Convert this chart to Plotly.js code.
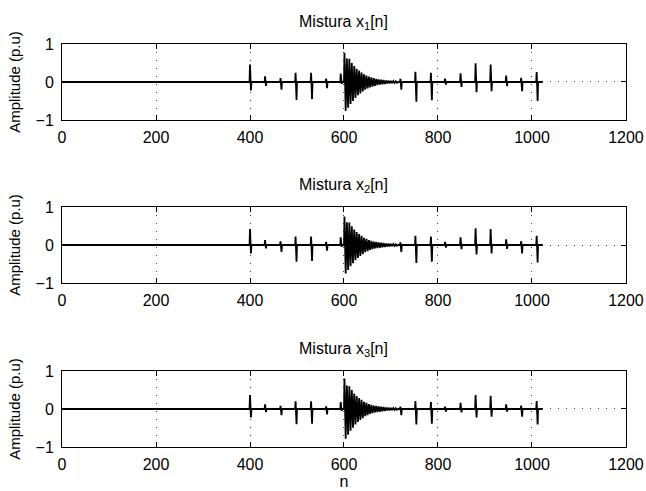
<!DOCTYPE html>
<html>
<head>
<meta charset="utf-8">
<script src="https://cdn.plot.ly/plotly-3.0.1.min.js"></script>
<style>html,body{margin:0;padding:0;background:#fff;}#chart{width:646px;height:491px;}</style>
</head>
<body>
<div id="chart"></div>
<script>
// ---- data ----
const nStart = 0, nEnd = 1023;
const spikeN = [400, 432, 465, 497, 530, 562, 593, 720, 752, 785, 815, 848, 880, 912, 945, 977, 1010];
const x1Up   = [0.46, 0.15, 0.10, 0.24, 0.24, 0.09, 0.22, 0.08, 0.27, 0.24, 0.09, 0.23, 0.49, 0.46, 0.17, 0.11, 0.26];
const x1Down = [-0.22, -0.10, -0.20, -0.47, -0.45, -0.16, -0.05, -0.20, -0.52, -0.48, -0.07, -0.13, -0.27, -0.24, -0.11, -0.24, -0.50];
const x2Up   = [0.42, 0.13, 0.10, 0.22, 0.22, 0.08, 0.20, 0.07, 0.24, 0.22, 0.08, 0.20, 0.44, 0.42, 0.15, 0.10, 0.24];
const x2Down = [-0.22, -0.09, -0.18, -0.44, -0.42, -0.15, -0.05, -0.18, -0.47, -0.44, -0.07, -0.11, -0.25, -0.22, -0.10, -0.22, -0.46];
const x3Up   = [0.37, 0.12, 0.08, 0.20, 0.20, 0.07, 0.18, 0.06, 0.21, 0.18, 0.06, 0.16, 0.37, 0.35, 0.12, 0.09, 0.21];
const x3Down = [-0.22, -0.08, -0.16, -0.40, -0.39, -0.14, -0.05, -0.16, -0.41, -0.39, -0.07, -0.09, -0.22, -0.20, -0.07, -0.20, -0.41];

// decaying oscillation starting near n = 600 (alternating peaks)
const oscStart = 601, oscHalfPeriod = 2.6;
const x1Osc = [0.77, -0.76, 0.62, -0.68, 0.61, -0.58, 0.50, -0.50, 0.42, -0.42, 0.35, -0.35, 0.30, -0.30, 0.25, -0.25,
  0.20, -0.20, 0.17, -0.17, 0.14, -0.14, 0.12, -0.12, 0.10, -0.10, 0.08, -0.08, 0.07, -0.07, 0.06, -0.06,
  0.05, -0.05, 0.04, -0.04, 0.035, -0.035, 0.03, -0.03, 0.025, -0.025, 0.02, -0.02];
const x2Osc = [0.75, -0.75, 0.60, -0.66, 0.59, -0.56, 0.49, -0.48, 0.41, -0.40, 0.34, -0.34, 0.29, -0.29, 0.24, -0.24,
  0.19, -0.19, 0.16, -0.16, 0.13, -0.13, 0.11, -0.11, 0.09, -0.09, 0.08, -0.08, 0.07, -0.07, 0.06, -0.06,
  0.05, -0.05, 0.04, -0.04, 0.035, -0.035, 0.03, -0.03, 0.025, -0.025, 0.02, -0.02];
const x3Osc = [0.80, -0.78, 0.62, -0.68, 0.60, -0.57, 0.50, -0.49, 0.41, -0.41, 0.34, -0.34, 0.29, -0.29, 0.24, -0.24,
  0.19, -0.19, 0.16, -0.16, 0.13, -0.13, 0.11, -0.11, 0.09, -0.09, 0.08, -0.08, 0.07, -0.07, 0.06, -0.06,
  0.05, -0.05, 0.04, -0.04, 0.035, -0.035, 0.03, -0.03, 0.025, -0.025, 0.02, -0.02];

const titles = ['Mistura x<sub>1</sub>[n]', 'Mistura x<sub>2</sub>[n]', 'Mistura x<sub>3</sub>[n]'];
const xTicks = [0, 200, 400, 600, 800, 1000, 1200];
const yTicks = [-1, 0, 1];
const yTitle = 'Amplitude (p.u)';
const xTitle = 'n';

// ---- build the signal vertices from the read values ----
function buildSignal(up, down, osc) {
  const pts = [[nStart, 0]];
  let oscDone = false;
  spikeN.forEach((n, i) => {
    if (n > oscStart && !oscDone) {
      pts.push([oscStart - 1, 0]);
      osc.forEach((v, k) => pts.push([oscStart + k * oscHalfPeriod, v]));
      pts.push([oscStart + osc.length * oscHalfPeriod, 0]);
      oscDone = true;
    }
    pts.push([n - 1, 0], [n, up[i]], [n + 2, down[i]], [n + 3, 0]);
  });
  pts.push([nEnd, 0]);
  return {x: pts.map(p => p[0]), y: pts.map(p => p[1])};
}

const sigs = [buildSignal(x1Up, x1Down, x1Osc), buildSignal(x2Up, x2Down, x2Osc), buildSignal(x3Up, x3Down, x3Osc)];

const font = {family: 'Liberation Sans, Arial, sans-serif', size: 16, color: '#000'};
const yTitleFont = {family: 'Liberation Sans, Arial, sans-serif', size: 15, color: '#000'};
const domainsY = [[0.7556, 0.9104], [0.4236, 0.5784], [0.0896, 0.2444]];
const domainX = [0.0960, 0.9690];

const data = sigs.map((s, i) => ({
  x: s.x, y: s.y, type: 'scatter', mode: 'lines',
  line: {color: '#000', width: 1.8},
  xaxis: i === 0 ? 'x' : 'x' + (i + 1),
  yaxis: i === 0 ? 'y' : 'y' + (i + 1),
  hoverinfo: 'skip', showlegend: false
}));

const layout = {
  width: 646, height: 491,
  margin: {l: 0, r: 0, t: 0, b: 0},
  paper_bgcolor: '#fff', plot_bgcolor: '#fff',
  font: font, showlegend: false, annotations: []
};

for (let i = 0; i < 3; i++) {
  const sfx = i === 0 ? '' : String(i + 1);
  layout['xaxis' + sfx] = {
    domain: domainX, range: [0, 1200], anchor: 'y' + sfx,
    tickvals: xTicks, ticktext: xTicks.map(String),
    ticks: 'inside', ticklen: 5, tickcolor: '#000', tickwidth: 1,
    showline: true, linecolor: '#000', linewidth: 1, mirror: 'allticks',
    showgrid: true, gridcolor: '#444', gridwidth: 1, griddash: '1px,7px',
    zeroline: false, tickfont: font, automargin: false, ticklabelstandoff: 3,
    title: i === 2 ? {text: xTitle, font: font, standoff: 2} : {text: ''}
  };
  layout['yaxis' + sfx] = {
    domain: domainsY[i], range: [-1, 1], anchor: 'x' + sfx,
    tickvals: yTicks, ticktext: ['\u22121', '0', '1'],
    ticks: 'inside', ticklen: 5, tickcolor: '#000', tickwidth: 1,
    showline: true, linecolor: '#000', linewidth: 1, mirror: 'allticks',
    showgrid: true, gridcolor: '#444', gridwidth: 1, griddash: '1px,7px',
    zeroline: false, tickfont: font, automargin: false, ticklabelstandoff: 4,
    title: {text: yTitle, font: yTitleFont, standoff: 11}
  };
  layout.annotations.push({
    text: titles[i], xref: 'paper', yref: 'paper',
    x: (domainX[0] + domainX[1]) / 2, y: domainsY[i][1],
    xanchor: 'center', yanchor: 'bottom', yshift: 10,
    showarrow: false, font: font
  });
}

Plotly.newPlot('chart', data, layout, {staticPlot: true, displayModeBar: false});
</script>
</body>
</html>
